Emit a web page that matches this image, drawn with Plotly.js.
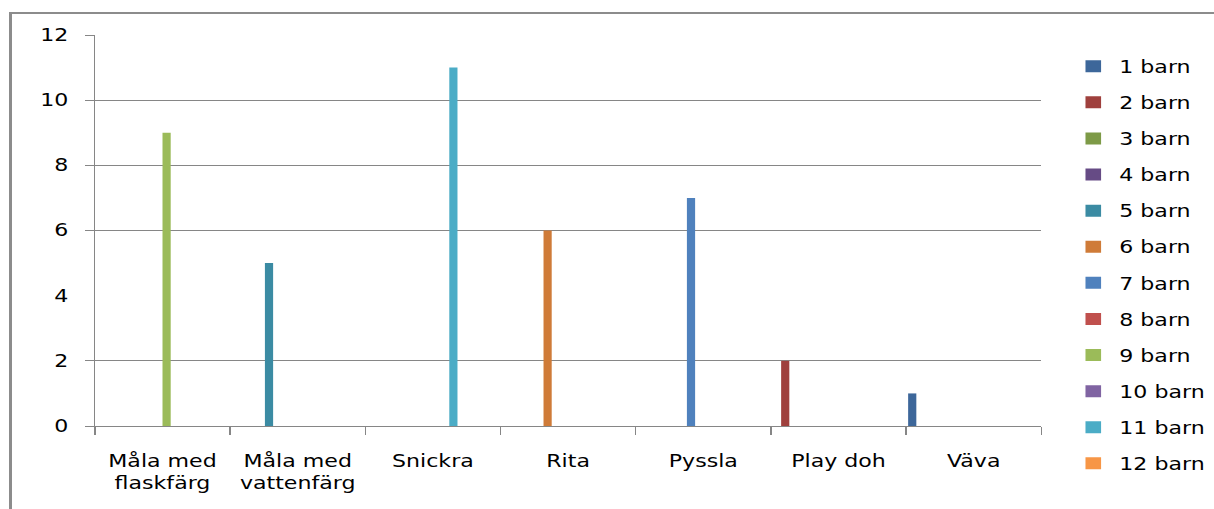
<!DOCTYPE html>
<html>
<head>
<meta charset="utf-8">
<script src="https://cdn.plot.ly/plotly-3.0.1.min.js"></script>
<style>
  html, body { margin: 0; padding: 0; background: #fff; overflow: hidden; }
  #frame { position: absolute; left: 9px; top: 12px; width: 3000px; height: 3000px;
           border-left: 3px solid #8c8c8c; border-top: 2px solid #8c8c8c; }
  #wrap { position: absolute; left: 0; top: 0; width: 934px; height: 509px;
          transform: scaleX(1.3); transform-origin: 0 0; }
</style>
</head>
<body>
<div id="frame"></div>
<div id="wrap"><div id="chart" style="width:934px;height:509px;"></div></div>
<script>
// Categories (x axis)
var categories = ["Måla med<br>flaskfärg", "Måla med<br>vattenfärg", "Snickra", "Rita", "Pyssla", "Play doh", "Väva"];

// Series names (legend)
var seriesNames = ["1 barn", "2 barn", "3 barn", "4 barn", "5 barn", "6 barn", "7 barn", "8 barn",
                   "9 barn", "10 barn", "11 barn", "12 barn", "13 barn", "14 barn", "15 barn", "16 barn"];

// Values per series, one per category
var barn1  = [0, 0, 0, 0, 0, 0, 1];
var barn2  = [0, 0, 0, 0, 0, 2, 0];
var barn3  = [0, 0, 0, 0, 0, 0, 0];
var barn4  = [0, 0, 0, 0, 0, 0, 0];
var barn5  = [0, 5, 0, 0, 0, 0, 0];
var barn6  = [0, 0, 0, 6, 0, 0, 0];
var barn7  = [0, 0, 0, 0, 7, 0, 0];
var barn8  = [0, 0, 0, 0, 0, 0, 0];
var barn9  = [9, 0, 0, 0, 0, 0, 0];
var barn10 = [0, 0, 0, 0, 0, 0, 0];
var barn11 = [0, 0, 11, 0, 0, 0, 0];
var barn12 = [0, 0, 0, 0, 0, 0, 0];
var barn13 = [0, 0, 0, 0, 0, 0, 0];
var barn14 = [0, 0, 0, 0, 0, 0, 0];
var barn15 = [0, 0, 0, 0, 0, 0, 0];
var barn16 = [0, 0, 0, 0, 0, 0, 0];

// Y axis tick labels
var yTicks = [0, 2, 4, 6, 8, 10, 12];
var yGridTicks = [0, 2, 6, 8, 10, 12];

var seriesValues = [barn1, barn2, barn3, barn4, barn5, barn6, barn7, barn8,
                    barn9, barn10, barn11, barn12, barn13, barn14, barn15, barn16];

var colors = ["#3D679A", "#9F403D", "#7D9A47", "#664B85", "#3B8BA3", "#CF7B38",
              "#4F81BD", "#C0504D", "#9BBB59", "#8064A2", "#4BACC6", "#F79646",
              "#95B3D7", "#D99694", "#C3D69B", "#B3A2C7"];

var FONT = "DejaVu Sans";
var AX = "#868686";

var traces = seriesNames.map(function (name, i) {
  return {
    type: "bar",
    name: name,
    x: categories,
    y: seriesValues[i],
    legendgroup: "g" + i,
    showlegend: i < 12,
    marker: { color: colors[i], line: { width: 0 } },
    hoverinfo: "x+y+name"
  };
});

// empty helper trace so the gridline axis (y2) is drawn
var gridHelper = {
  type: "scatter", mode: "markers", x: [], y: [],
  xaxis: "x", yaxis: "y2", showlegend: false, hoverinfo: "skip"
};

var layout = {
  width: 934,
  height: 509,
  margin: { l: 73.1, r: 132.5, t: 35, b: 83, autoexpand: false },
  paper_bgcolor: "rgba(0,0,0,0)",
  plot_bgcolor: "rgba(0,0,0,0)",
  barmode: "group",
  bargap: 0.03,
  bargroupgap: 0,
  font: { family: FONT, size: 17, color: "#000" },
  xaxis: {
    type: "category",
    tickson: "boundaries",
    ticks: "outside",
    ticklen: 8,
    tickcolor: AX,
    tickwidth: 1,
    showline: true,
    linecolor: AX,
    linewidth: 1,
    showgrid: false,
    zeroline: false,
    tickfont: { family: FONT, size: 17, color: "#000" },
    ticklabelstandoff: 20,
    fixedrange: true
  },
  yaxis: {
    range: [0, 12],
    tickvals: yTicks,
    ticktext: yTicks.map(String),
    ticks: "",
    showline: true,
    linecolor: AX,
    linewidth: 1,
    showgrid: false,
    zeroline: false,
    tickfont: { family: FONT, size: 17, color: "#000" },
    ticklabelstandoff: 16,
    fixedrange: true
  },
  yaxis2: {
    overlaying: "y",
    side: "left",
    range: [0, 12],
    tickvals: yGridTicks,
    showticklabels: false,
    ticks: "outside",
    ticklen: 7,
    tickcolor: AX,
    showgrid: true,
    gridcolor: AX,
    gridwidth: 1.3,
    zeroline: false,
    showline: false,
    fixedrange: true
  },
  legend: {
    x: 0.879, xref: "container", xanchor: "left",
    y: 0.9043, yref: "container", yanchor: "top",
    font: { family: FONT, size: 17, color: "#000" },
    tracegroupgap: 11,
    maxheight: 500,
    bgcolor: "rgba(0,0,0,0)",
    borderwidth: 0
  },
  showlegend: true
};

Plotly.newPlot("chart", traces.concat([gridHelper]), layout, { displayModeBar: false, staticPlot: true });
</script>
</body>
</html>
